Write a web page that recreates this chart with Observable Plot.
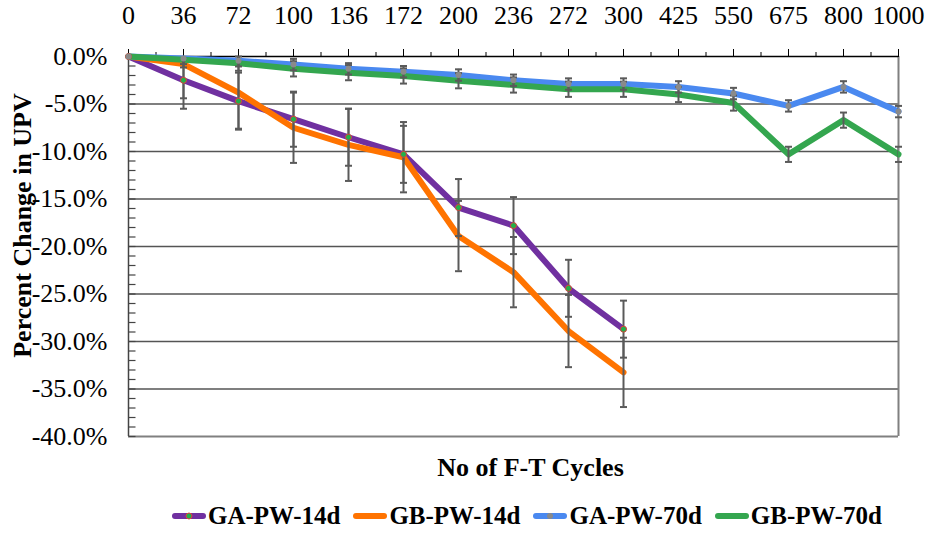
<!DOCTYPE html>
<html>
<head>
<meta charset="utf-8">
<script src="https://cdn.jsdelivr.net/npm/d3@7"></script>
<script src="https://cdn.jsdelivr.net/npm/@observablehq/plot@0.6"></script>
<style>
  html, body { margin: 0; padding: 0; background: #fff; }
  #chart { width: 930px; }
  .legend { display: flex; align-items: center; height: 51px; padding-left: 172px;
            font-family: "Liberation Serif", Tinos, "DejaVu Serif", serif; font-weight: bold; font-size: 25px; color: #000; }
  .legend .item { display: flex; align-items: center; margin-right: 13px; }
  .legend svg { margin-right: 2px; }
</style>
</head>
<body>
<div id="chart"></div>
<script>
// Freeze-thaw cycle counts (evenly spaced categories on the top axis)
const cycles = ["0", "36", "72", "100", "136", "172", "200", "236", "272", "300", "425", "550", "675", "800", "1000"];

const seriesNames = ["GA-PW-14d", "GB-PW-14d", "GA-PW-70d", "GB-PW-70d"];
const seriesColors = ["#7030a0", "#ff7300", "#4a89f0", "#34a64f"];

// Percent change in UPV for each series
const gaPw14 = [0, -2.5, -4.7, -6.6, -8.5, -10.3, -15.9, -17.8, -24.4, -28.7];
const gbPw14 = [0, -0.8, -3.8, -7.5, -9.3, -10.6, -18.9, -22.7, -28.9, -33.25];
const gaPw70 = [0, -0.2, -0.45, -0.85, -1.3, -1.6, -1.95, -2.5, -2.9, -2.9, -3.2, -3.9, -5.2, -3.2, -5.8];
const gbPw70 = [0, -0.35, -0.7, -1.3, -1.7, -2.05, -2.55, -3.0, -3.45, -3.45, -4.0, -4.9, -10.3, -6.7, -10.3];

// Error bar half-widths (percentage points)
const gaPw14Err = [0, 3.0, 3.0, 2.9, 3.0, 3.0, 3.0, 3.0, 3.0, 3.0];
const gbPw14Err = [0, 3.6, 3.8, 3.7, 3.8, 3.7, 3.7, 3.7, 3.8, 3.65];
const gaPw70Err = [0, 0.6, 0.6, 0.6, 0.6, 0.6, 0.6, 0.6, 0.6, 0.6, 0.6, 0.6, 0.6, 0.6, 0.6];
const gbPw70Err = [0, 0.8, 0.8, 0.8, 0.8, 0.8, 0.8, 0.8, 0.8, 0.8, 0.8, 0.8, 0.8, 0.8, 0.8];

const yTicks = [0, -5, -10, -15, -20, -25, -30, -35, -40];

const valuesBySeries = [gaPw14, gbPw14, gaPw70, gbPw70];
const errBySeries = [gaPw14Err, gbPw14Err, gaPw70Err, gbPw70Err];

const rows = [];
valuesBySeries.forEach((vals, s) => {
  vals.forEach((v, i) => rows.push({series: seriesNames[s], i, value: v, err: errBySeries[s][i]}));
});

const yMin = d3.min(yTicks), yMax = d3.max(yTicks);
const errRows = rows.filter(d => d.err > 0);
const capRows = errRows.flatMap(d => [d.value - d.err, d.value + d.err].map(y => ({i: d.i, y})))
  .filter(d => d.y >= yMin && d.y <= yMax);

// Small custom glyphs for error-bar caps and inward minor ticks
const hCap = {draw(ctx, size) { const r = Math.sqrt(size / Math.PI); ctx.moveTo(-r, 0); ctx.lineTo(r, 0); }};
const tickRight = {draw(ctx, size) { const r = Math.sqrt(size / Math.PI); ctx.moveTo(0, 0); ctx.lineTo(2 * r, 0); }};

const minorY = d3.range(yMin, yMax + 1, 1);
const minorX = d3.range(0.5, cycles.length - 1, 1);
const color = {domain: seriesNames, range: seriesColors};
const serif = "'Liberation Serif', Tinos, 'DejaVu Serif', serif";

const plot = Plot.plot({
  width: 930,
  height: 490,
  marginTop: 56,
  marginLeft: 128,
  marginRight: 32,
  marginBottom: 54,
  style: {fontFamily: serif, fontSize: "26px", color: "#000", background: "#fff"},
  x: {type: "linear", domain: [0, cycles.length - 1], axis: null, label: null},
  y: {domain: [yMin, yMax], axis: null, label: null},
  color,
  marks: [
    // gridlines and frame
    Plot.ruleY(yTicks.filter(t => t !== yMax && t !== yMin), {stroke: "#555", strokeWidth: 1.5}),
    Plot.ruleY([yMin], {stroke: "#808080", strokeWidth: 2}),
    Plot.ruleX([cycles.length - 1], {stroke: "#808080", strokeWidth: 2}),
    Plot.ruleX([0], {stroke: "#444", strokeWidth: 1.5}),
    Plot.ruleY([yMax], {stroke: "#000", strokeWidth: 1.5}),
    Plot.dot(minorY, {y: d => d, frameAnchor: "left", symbol: tickRight, r: 3.5, stroke: "#444", strokeWidth: 1.2, fill: "none"}),
    // top category axis
    Plot.axisX({anchor: "top", label: null, ticks: d3.range(cycles.length), tickFormat: i => cycles[i], tickSize: 8, tickPadding: 25, stroke: "#000", fontSize: 26}),
    Plot.axisX({anchor: "top", label: null, ticks: minorX, tickFormat: () => "", tickSize: 5, stroke: "#000"}),
    // left value axis
    Plot.axisY({label: null, ticks: yTicks, tickSize: 0, tickPadding: 21, tickFormat: d => d.toFixed(1) + "%", fontSize: 26}),
    // series lines
    Plot.line(rows, {x: "i", y: "value", z: "series", stroke: "series", strokeWidth: 6, strokeLinejoin: "round", strokeLinecap: "round"}),
    // error bars
    Plot.ruleX(errRows, {x: "i", y1: d => d.value - d.err, y2: d => d.value + d.err, stroke: "#5a5a5a", strokeWidth: 2, clip: true}),
    Plot.dot(capRows, {x: "i", y: "y", symbol: hCap, r: 3.5, stroke: "#5a5a5a", strokeWidth: 2, fill: "none"}),
    // markers
    Plot.dot(rows.filter(d => d.series === "GA-PW-14d"), {x: "i", y: "value", r: 3, fill: "#22b04a", stroke: "#e0403a", strokeWidth: 1}),
    Plot.dot(rows.filter(d => d.series === "GA-PW-70d"), {x: "i", y: "value", r: 3, fill: "#8a8a8a", stroke: "none"}),
    // axis titles
    Plot.text(["No of F-T Cycles"], {frameAnchor: "bottom", textAnchor: "middle", lineAnchor: "middle", dy: 31, dx: 17, fontWeight: "bold", fontSize: 26, fill: "#000"}),
    Plot.text(["Percent Change in UPV"], {frameAnchor: "left", textAnchor: "middle", lineAnchor: "middle", rotate: -90, dx: -106, dy: -21, fontWeight: "bold", fontSize: 26, fill: "#000"})
  ]
});

document.getElementById("chart").appendChild(plot);

// Legend below the chart
const legend = document.createElement("div");
legend.className = "legend";
seriesNames.forEach((name, s) => {
  const item = document.createElement("div");
  item.className = "item";
  const sw = d3.create("svg").attr("width", 34).attr("height", 14);
  sw.append("line").attr("x1", 3).attr("x2", 31).attr("y1", 7).attr("y2", 7)
    .attr("stroke", seriesColors[s]).attr("stroke-width", 6).attr("stroke-linecap", "round");
  if (name === "GA-PW-14d") sw.append("circle").attr("cx", 17).attr("cy", 7).attr("r", 3).attr("fill", "#22b04a").attr("stroke", "#e0403a");
  if (name === "GA-PW-70d") sw.append("circle").attr("cx", 17).attr("cy", 7).attr("r", 3).attr("fill", "#8a8a8a");
  item.appendChild(sw.node());
  const label = document.createElement("span");
  label.textContent = name;
  item.appendChild(label);
  legend.appendChild(item);
});
document.getElementById("chart").appendChild(legend);
</script>
</body>
</html>
